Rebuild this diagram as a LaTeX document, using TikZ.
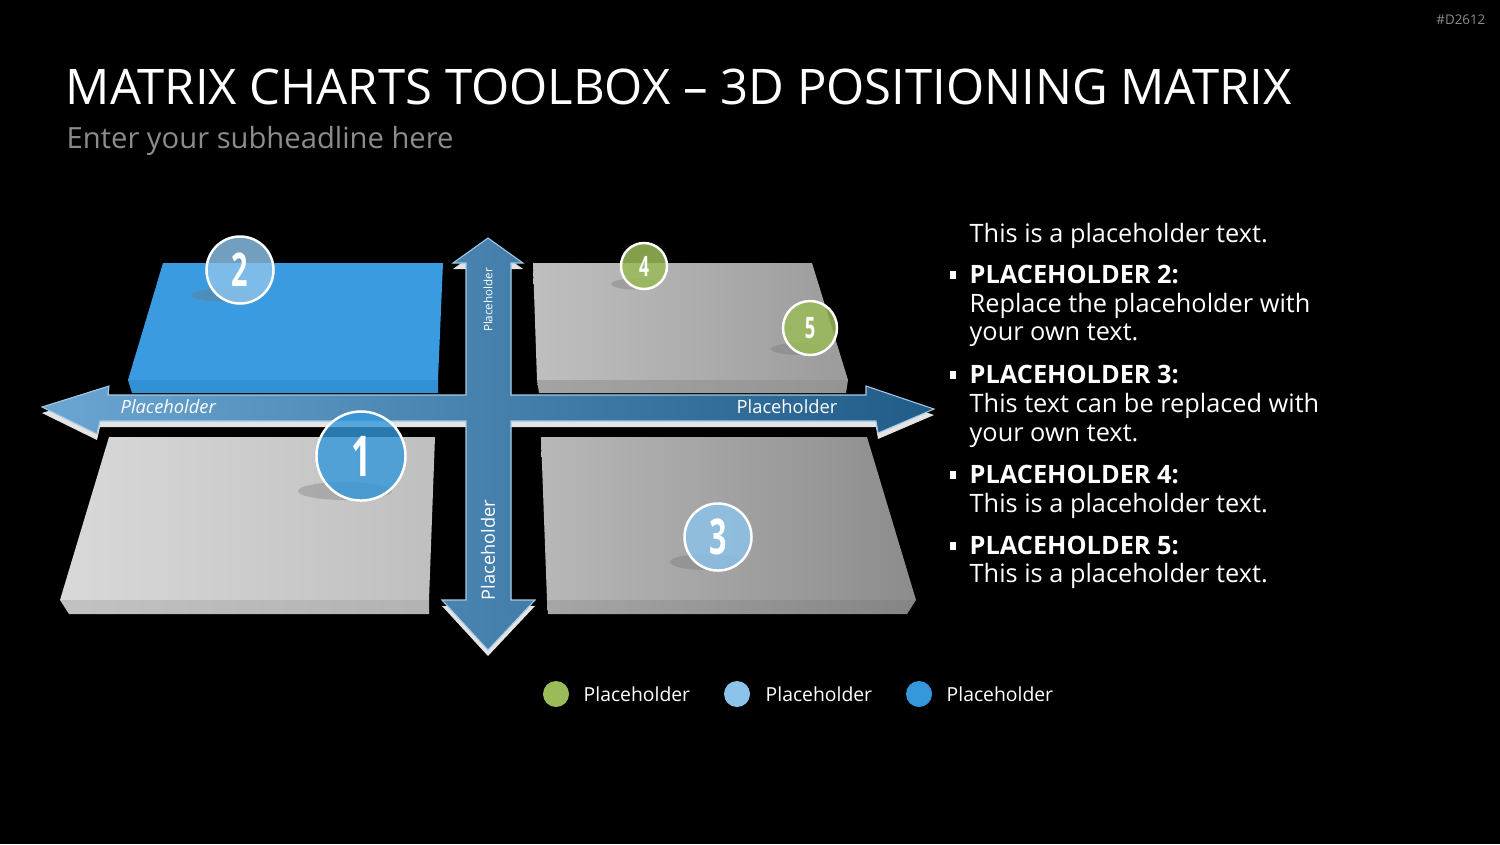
\documentclass[tikz,border=0pt]{standalone}
\usepackage{fontspec}
\setmainfont{Open Sans}
\newfontfamily\numfont[FakeStretch=0.62]{Open Sans}
\usetikzlibrary{positioning,calc}
\definecolor{bluetop}{HTML}{3A9BE0}
\definecolor{bluefront}{HTML}{3290D4}
\definecolor{dotblue}{HTML}{3498DB}
\definecolor{dotlight}{HTML}{8CC3EB}
\definecolor{dotgreen}{HTML}{9BBB59}
\definecolor{arrowlight}{HTML}{6BA6D2}
\definecolor{arrowdark}{HTML}{215C89}
\definecolor{bevel}{HTML}{E4E4E4}
\definecolor{subgrey}{HTML}{8C8C8C}
\tikzstyle{none}=[inner sep=0mm]
\tikzstyle{numdot}=[circle,draw=white,line width=0.7pt,inner sep=0pt,text=white,text opacity=1]
\tikzstyle{bluedot}=[numdot,fill=dotblue,fill opacity=0.8]
\tikzstyle{lightdot}=[numdot,fill=dotlight,fill opacity=0.82]
\tikzstyle{greendot}=[numdot,fill=dotgreen,fill opacity=0.85]
\tikzstyle{dotshadow}=[fill=black!55,opacity=0.35]
\tikzstyle{legdot}=[circle,inner sep=0pt,minimum size=2.6mm]
\tikzstyle{legtext}=[none,anchor=base west,text=white,font=\fontsize{5.5}{6}\selectfont]
\tikzstyle{bodytext}=[none,anchor=base west,text=white,font=\fontsize{7.2}{8}\selectfont]
\tikzstyle{headtext}=[bodytext,font=\fontsize{7.2}{8}\selectfont\bfseries]
\tikzstyle{bulletbox}=[rectangle,fill=white,inner sep=0pt,minimum width=0.65mm,minimum height=0.75mm]
\tikzstyle{arrowlabel}=[none,text=white,font=\fontsize{5.2}{6}\selectfont]
\begin{document}
\begin{tikzpicture}[x=0.01cm,y=-0.01cm]
	\fill[black] (0,0) rectangle (1500,844);
	\useasboundingbox (0,0) rectangle (1500,844);
	\node [none,anchor=base east,text=subgrey,font=\fontsize{3.8}{4}\selectfont] (code) at (1486,24) {\#D2612};
	\node [none,anchor=base west,text=white,font=\fontsize{13.95}{16}\selectfont] (title) at (65,104) {MATRIX CHARTS TOOLBOX – 3D POSITIONING MATRIX};
	\node [none,anchor=base west,text=subgrey,font=\fontsize{8.3}{10}\selectfont] (subtitle) at (66,148) {Enter your subheadline here};
	\fill[bluetop] (163,263) -- (443,263) -- (438,380) -- (128,380) -- cycle;
	\fill[bluefront] (128,380) -- (438,380) -- (438,393) -- (132,393) -- cycle;
	\shade[left color=black!25,right color=black!39] (533,263) -- (812,263) -- (848,380) -- (537,380) -- cycle;
	\shade[left color=black!36,right color=black!42] (537,380) -- (848,380) -- (846,393) -- (539,393) -- cycle;
	\shade[left color=black!15,right color=black!25] (109,437) -- (435,437) -- (429,600) -- (60,600) -- cycle;
	\shade[left color=black!24,right color=black!30] (60,600) -- (429,600) -- (429,614) -- (69,614) -- cycle;
	\shade[left color=black!28,right color=black!45] (541,437) -- (867,437) -- (916,600) -- (547,600) -- cycle;
	\shade[left color=black!35,right color=black!48] (547,600) -- (916,600) -- (907,614) -- (548,614) -- cycle;
	\fill[bevel] (488,244) -- (523,269) -- (511,269) -- (511,401) -- (866,401) -- (866,392) -- (934,415) -- (878,439) -- (876,427) -- (511,427) -- (511,606) -- (535,606) -- (488,656) -- (442,606) -- (466,606) -- (466,427) -- (100,427) -- (97,440) -- (42,413) -- (109,392) -- (108,401) -- (466,401) -- (466,269) -- (453,269) -- cycle;
	\shade[left color=arrowlight,right color=arrowdark,draw=arrowlight!60!white,line width=0.3pt] (488,238) -- (523,263) -- (511,263) -- (511,395) -- (866,395) -- (866,386) -- (934,409) -- (878,433) -- (876,421) -- (511,421) -- (511,600) -- (535,600) -- (488,650) -- (442,600) -- (466,600) -- (466,421) -- (100,421) -- (97,434) -- (42,407) -- (109,386) -- (108,395) -- (466,395) -- (466,263) -- (453,263) -- cycle;
	\node [arrowlabel,anchor=base west,font=\fontsize{5.2}{6}\selectfont\itshape] (xleft) at (120,413) {Placeholder};
	\node [arrowlabel,anchor=base east] (xright) at (838,413) {Placeholder};
	\node [arrowlabel,rotate=90,font=\fontsize{3.3}{4}\selectfont] (ytop) at (488,300) {Placeholder};
	\node [arrowlabel,rotate=90] (ybot) at (488,550) {Placeholder};
	\fill[dotshadow] (345,491) ellipse [x radius=4.7mm,y radius=0.9mm];
	\fill[dotshadow] (228,295) ellipse [x radius=3.6mm,y radius=0.7mm];
	\fill[dotshadow] (706,562) ellipse [x radius=3.6mm,y radius=0.8mm];
	\fill[dotshadow] (635,284) ellipse [x radius=2.4mm,y radius=0.55mm];
	\fill[dotshadow] (800,349) ellipse [x radius=2.9mm,y radius=0.6mm];
	\node [bluedot,minimum size=8.9mm,font=\fontsize{16}{16}\selectfont\numfont\bfseries] (n1) at (361,456) {1};
	\node [lightdot,minimum size=6.7mm,font=\fontsize{13.2}{14}\selectfont\numfont\bfseries] (n2) at (240,270) {2};
	\node [lightdot,minimum size=6.7mm,font=\fontsize{14}{14}\selectfont\numfont\bfseries] (n3) at (718,537) {3};
	\node [greendot,minimum size=4.6mm,font=\fontsize{8}{8}\selectfont\numfont\bfseries] (n4) at (644,266) {4};
	\node [greendot,minimum size=5.4mm,font=\fontsize{8.4}{9}\selectfont\numfont\bfseries] (n5) at (810,328) {5};
	\node [bodytext] (t1) at (969,242) {This is a placeholder text.};
	\node [bulletbox] (b2) at (953,275) {};
	\node [headtext] (h2) at (969,283) {PLACEHOLDER 2:};
	\node [bodytext] (t2a) at (969,312) {Replace the placeholder with};
	\node [bodytext] (t2b) at (969,340) {your own text.};
	\node [bulletbox] (b3) at (953,375) {};
	\node [headtext] (h3) at (969,383) {PLACEHOLDER 3:};
	\node [bodytext] (t3a) at (969,412) {This text can be replaced with};
	\node [bodytext] (t3b) at (969,441) {your own text.};
	\node [bulletbox] (b4) at (953,475) {};
	\node [headtext] (h4) at (969,483) {PLACEHOLDER 4:};
	\node [bodytext] (t4) at (969,512) {This is a placeholder text.};
	\node [bulletbox] (b5) at (953,546) {};
	\node [headtext] (h5) at (969,554) {PLACEHOLDER 5:};
	\node [bodytext] (t5) at (969,582) {This is a placeholder text.};
	\node [legdot,fill=dotgreen] (l1) at (556,694) {};
	\node [legtext] (lt1) at (583,701) {Placeholder};
	\node [legdot,fill=dotlight] (l2) at (737,694) {};
	\node [legtext] (lt2) at (765,701) {Placeholder};
	\node [legdot,fill=dotblue] (l3) at (919,694) {};
	\node [legtext] (lt3) at (946,701) {Placeholder};
\end{tikzpicture}
\end{document}
